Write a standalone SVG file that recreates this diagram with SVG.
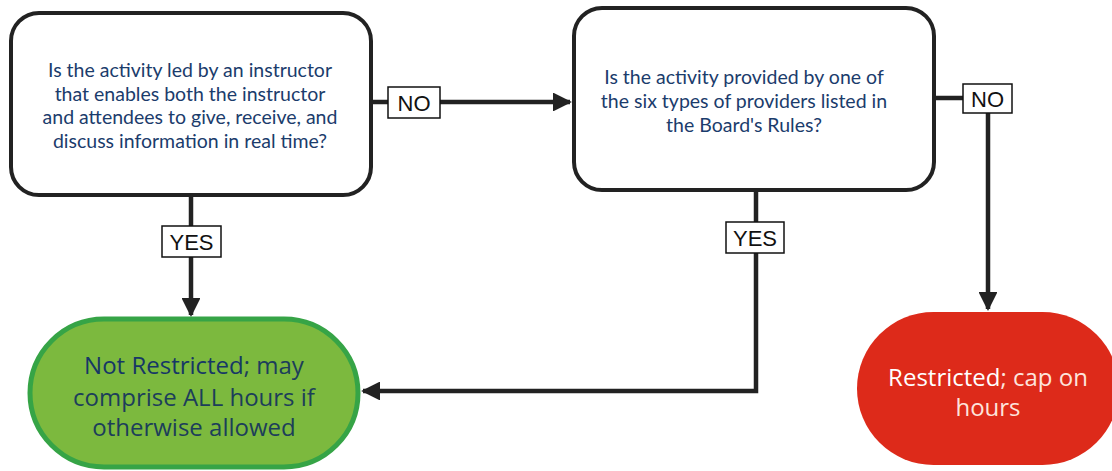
<svg xmlns="http://www.w3.org/2000/svg" width="1112" height="471" viewBox="0 0 1112 471">
<style>
.box{fill:#fff;stroke:#222;stroke-width:4}
.q{font-family:Lato,"Open Sans",sans-serif;font-size:19.5px;fill:#1b3c6c;text-anchor:middle}
.lbl{fill:#fff;stroke:#111;stroke-width:1.5}
.lt{font-family:"Liberation Sans",Arial,sans-serif;font-size:22px;fill:#111;text-anchor:middle}
.conn{fill:none;stroke:#222;stroke-width:4.5}
.r{font-family:"Open Sans","Noto Sans",sans-serif;font-size:24px;text-anchor:middle}
</style>
<defs>
<marker id="ah" viewBox="0 0 10 10" refX="9" refY="5" markerWidth="4.2" markerHeight="4.2" orient="auto" markerUnits="strokeWidth">
<path d="M0,0 L10,5 L0,10 Z" fill="#222"/>
</marker>
</defs>
<rect width="1112" height="471" fill="#fff"/>
<g id="connectors">
<path class="conn" d="M372,102 H570" marker-end="url(#ah)"/>
<path class="conn" d="M935,98 H988 V309" marker-end="url(#ah)"/>
<path class="conn" d="M191,195 V315" marker-end="url(#ah)"/>
<path class="conn" d="M756,190 V391 H363" marker-end="url(#ah)"/>
</g>
<g id="q1">
<rect class="box" x="11" y="13" width="360" height="182" rx="28"/>
<text class="q" x="190" y="77">Is the activity led by an instructor</text>
<text class="q" x="190" y="100.5">that enables both the instructor</text>
<text class="q" x="190" y="124">and attendees to give, receive, and</text>
<text class="q" x="190" y="147.5">discuss information in real time?</text>
</g>
<g id="q2">
<rect class="box" x="574" y="8" width="360" height="182" rx="28"/>
<text class="q" x="744" y="84">Is the activity provided by one of</text>
<text class="q" x="744" y="108">the six types of providers listed in</text>
<text class="q" x="744" y="132">the Board's Rules?</text>
</g>
<g id="no1">
<rect class="lbl" x="388" y="87" width="52" height="31"/>
<text class="lt" x="414" y="111">NO</text>
</g>
<g id="no2">
<rect class="lbl" x="963" y="84" width="49" height="29"/>
<text class="lt" x="987.5" y="107">NO</text>
</g>
<g id="yes1">
<rect class="lbl" x="162" y="226" width="59" height="31"/>
<text class="lt" x="191.5" y="250">YES</text>
</g>
<g id="yes2">
<rect class="lbl" x="726" y="222" width="58" height="31"/>
<text class="lt" x="755" y="246">YES</text>
</g>
<g id="notrestricted">
<rect x="30" y="319" width="328" height="148" rx="74" fill="#7cb93e" stroke="#36a446" stroke-width="5"/>
<text class="r" x="194" y="374"><tspan fill="#163766" font-weight="500">Not Restricted</tspan><tspan fill="#1c3e5a">; may</tspan></text>
<text class="r" x="194" y="406" fill="#1c3e5a">comprise ALL hours if</text>
<text class="r" x="194" y="436" fill="#1c3e5a">otherwise allowed</text>
</g>
<g id="restricted">
<rect x="857" y="312" width="262" height="153" rx="76.5" fill="#dd2a1a"/>
<text class="r" x="988" y="386"><tspan fill="#fff" font-weight="500">Restricted</tspan><tspan fill="#fde4dc">; cap on</tspan></text>
<text class="r" x="988" y="416" fill="#fde4dc">hours</text>
</g>
</svg>
